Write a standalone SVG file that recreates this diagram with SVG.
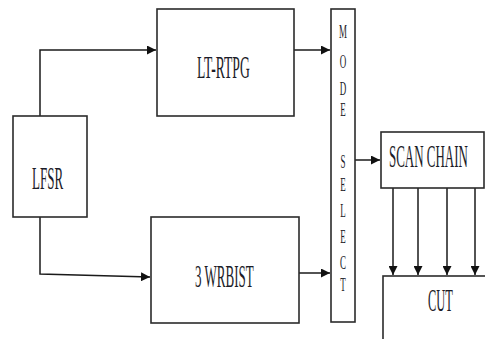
<svg xmlns="http://www.w3.org/2000/svg" width="485" height="339" viewBox="0 0 485 339">
  <style>
    .box { fill: #ffffff; stroke: #2b2b2b; stroke-width: 1.6; }
    .wire { fill: none; stroke: #1a1a1a; stroke-width: 1.5; }
    .label { font-family: "Liberation Serif", "Times New Roman", serif; font-size: 31px; fill: #1c1c28; }
    .letter { font-family: "Liberation Serif", "Times New Roman", serif; font-size: 18px; fill: #1c1c28; text-anchor: middle; }
  </style>
  <defs>
    <marker id="arrow" viewBox="0 0 10 10" refX="10" refY="5" markerWidth="9" markerHeight="9" markerUnits="userSpaceOnUse" orient="auto">
      <path d="M0,0 L10,5 L0,10 Z" fill="#111111"/>
    </marker>
  </defs>

  <rect width="485" height="339" fill="#ffffff"/>

  <g id="connectors">
    <polyline class="wire" points="40,116 40,50 156,50" marker-end="url(#arrow)"/>
    <polyline class="wire" points="40,217 40,274 150,277" marker-end="url(#arrow)"/>
    <line class="wire" x1="294" y1="50" x2="330" y2="50" marker-end="url(#arrow)"/>
    <line class="wire" x1="299" y1="273" x2="330" y2="273" marker-end="url(#arrow)"/>
    <line class="wire" x1="355" y1="160" x2="380" y2="160" marker-end="url(#arrow)"/>
    <line class="wire" x1="393" y1="188" x2="393" y2="275" marker-end="url(#arrow)"/>
    <line class="wire" x1="418" y1="188" x2="418" y2="275" marker-end="url(#arrow)"/>
    <line class="wire" x1="447" y1="188" x2="447" y2="275" marker-end="url(#arrow)"/>
    <line class="wire" x1="475" y1="188" x2="475" y2="275" marker-end="url(#arrow)"/>
  </g>

  <g id="lfsr">
    <rect class="box" x="13" y="116" width="74" height="101"/>
    <text class="label" transform="translate(32,189) scale(0.42,1)">LFSR</text>
  </g>

  <g id="lt-rtpg">
    <rect class="box" x="157" y="9" width="137" height="107"/>
    <text class="label" transform="translate(197,78) scale(0.44,1)">LT-RTPG</text>
  </g>

  <g id="wrbist">
    <rect class="box" x="151" y="217" width="148" height="106"/>
    <text class="label" transform="translate(195,287) scale(0.42,1)">3 WRBIST</text>
  </g>

  <g id="mode-select">
    <rect class="box" x="331" y="9" width="24" height="313"/>
    <g transform="translate(343,0) scale(0.5,1)">
      <text class="letter" x="0" y="38">M</text>
      <text class="letter" x="0" y="68">O</text>
      <text class="letter" x="0" y="95">D</text>
      <text class="letter" x="0" y="116">E</text>
      <text class="letter" x="0" y="168">S</text>
      <text class="letter" x="0" y="191">E</text>
      <text class="letter" x="0" y="217">L</text>
      <text class="letter" x="0" y="243">E</text>
      <text class="letter" x="0" y="269">C</text>
      <text class="letter" x="0" y="291">T</text>
    </g>
  </g>

  <g id="scan-chain">
    <rect class="box" x="381" y="132" width="103" height="56"/>
    <text class="label" transform="translate(389,167) scale(0.418,1)">SCAN CHAIN</text>
  </g>

  <g id="cut">
    <rect class="box" x="383" y="276" width="130" height="100"/>
    <text class="label" transform="translate(428,311) scale(0.40,1)">CUT</text>
  </g>
</svg>
